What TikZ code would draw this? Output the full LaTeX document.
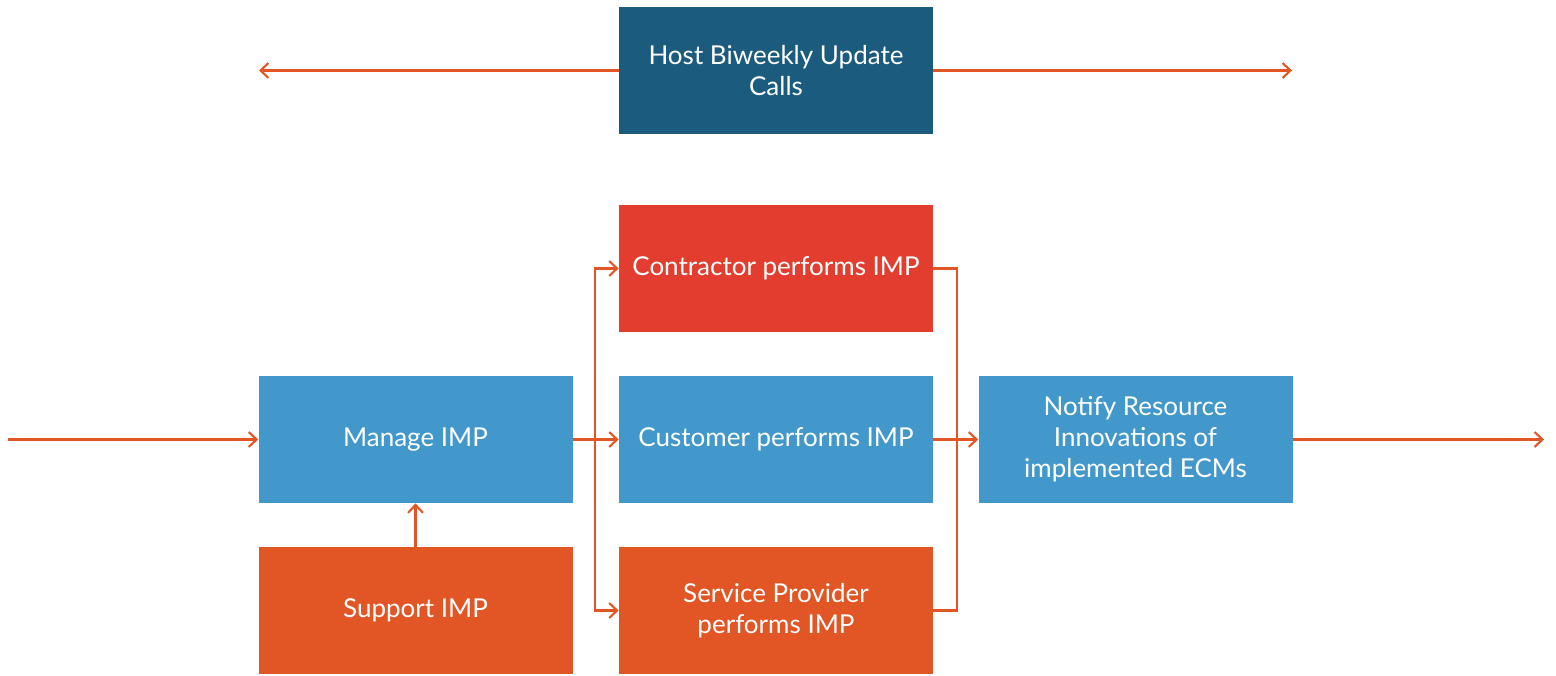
\documentclass[tikz,border=0pt]{standalone}
\usepackage{fontspec}
\setmainfont{Lato}
\usetikzlibrary{arrows.meta}

\definecolor{darkblue}{HTML}{1B5C7E}
\definecolor{redbox}{HTML}{E33D30}
\definecolor{bluebox}{HTML}{4298CB}
\definecolor{orangebox}{HTML}{E25625}
\definecolor{arrowcol}{HTML}{E25625}

\begin{document}
\begin{tikzpicture}[
    box/.style={draw=none, minimum width=6.28cm, minimum height=2.54cm,
      text=white, align=center, inner sep=0pt,
      font=\fontsize{14.8}{17.6}\selectfont},
    link/.style={draw=arrowcol, line width=1.3pt},
    arr/.style={link, -{Straight Barb[length=4.5pt, width=8.5pt, line width=1.2pt]}}
  ]
    \useasboundingbox (0,0) rectangle (31.12,13.5);

    \node[box, fill=darkblue] (host) at (15.52, 12.09) {Host Biweekly Update\\Calls};

    \node[box, fill=redbox] (contractor) at (15.52, 8.13) {Contractor performs IMP};
    \node[box, fill=bluebox] (customer) at (15.52, 4.71) {Customer performs IMP};
    \node[box, fill=orangebox] (service) at (15.52, 1.29) {Service Provider\\performs IMP};

    \node[box, fill=bluebox] (manage) at (8.31, 4.71) {Manage IMP};
    \node[box, fill=orangebox] (support) at (8.31, 1.29) {Support IMP};
    \node[box, fill=bluebox] (notify) at (22.71, 4.71) {Notify Resource\\Innovations of\\implemented ECMs};

    \coordinate (in) at (0.16, 4.71);
    \coordinate (out) at (30.88, 4.71);
    \coordinate (hl) at (5.18, 12.09);
    \coordinate (hr) at (25.84, 12.09);
    \coordinate (split) at (11.9, 4.71);
    \coordinate (join) at (19.14, 4.71);

    % host update arrows
    \draw[arr] (host.west) -- (hl);
    \draw[arr] (host.east) -- (hr);

    % main flow
    \draw[arr] (in) -- (manage.west);
    \draw[arr] (support.north) -- (manage.south);
    \draw[arr] (manage.east) -- (customer.west);
    \draw[arr] (split) |- (contractor.west);
    \draw[arr] (split) |- (service.west);

    \draw[link] (contractor.east) -| (join);
    \draw[link] (service.east) -| (join);
    \draw[arr] (customer.east) -- (notify.west);
    \draw[arr] (notify.east) -- (out);
  \end{tikzpicture}
\end{document}
